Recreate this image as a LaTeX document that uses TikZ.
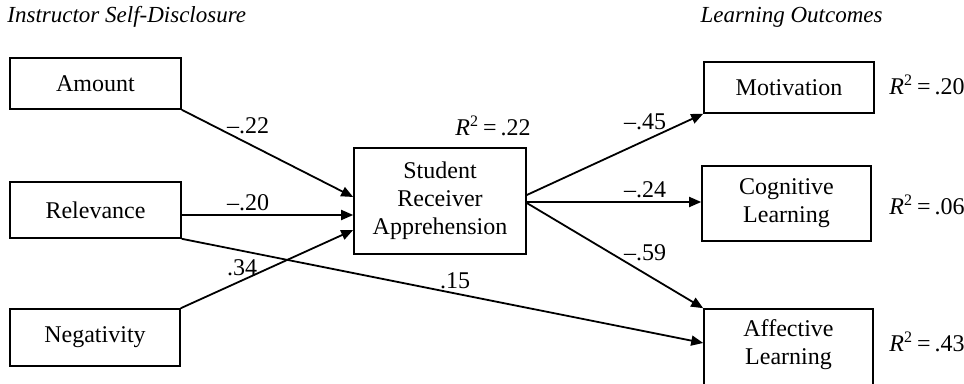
\documentclass[tikz,border=0pt]{standalone}
\usepackage{fontspec}
\setmainfont{Liberation Serif}
\usetikzlibrary{arrows.meta,calc}
\tikzset{
  box/.style={draw, line width=0.8pt, align=center, inner sep=0pt, font=\fontsize{12}{14}\selectfont},
  conn/.style={line width=0.9pt, -{Triangle[length=6pt,width=5pt]}},
  lab/.style={inner sep=0pt, font=\fontsize{12}{14}\selectfont},
  head/.style={inner sep=0pt, font=\fontsize{11.5}{14}\selectfont\itshape}
}
\newcommand{\rsq}[1]{{\itshape R}\textsuperscript{2}\,=\,#1}
\begin{document}
\begin{tikzpicture}[x=0.5pt,y=-0.5pt]
\useasboundingbox (0,0) rectangle (964,384);
% headings
\node[head, anchor=west] (h1) at (7,17) {Instructor Self-Disclosure};
\node[head, anchor=east] (h2) at (883,17) {Learning Outcomes};
% left boxes
\node[box, minimum width=85.5pt, minimum height=25.5pt] (amount) at (95.5,83.5) {Amount};
\node[box, minimum width=85.5pt, minimum height=28pt] (rel) at (95.5,210) {Relevance};
\node[box, minimum width=85pt, minimum height=28.5pt] (neg) at (95,337.5) {Negativity};
% middle
\node[box, minimum width=86pt, minimum height=53pt] (stu) at (440,201) {Student\\Receiver\\Apprehension};
% right boxes
\node[box, minimum width=85pt, minimum height=25.5pt] (mot) at (789,87.5) {Motivation};
\node[box, minimum width=84.5pt, minimum height=37.5pt] (cog) at (786.5,203.5) {Cognitive\\Learning};
\node[box, minimum width=84.5pt, minimum height=40pt,
      label={[lab, align=center, yshift=2pt]center:Affective\\Learning}] (aff) at (788.5,349) {};
% connectors
\draw[conn] (amount.south east) -- ($(stu.west)+(0,-4)$);
\coordinate (r1) at ($(rel.east)+(0,5)$);
\draw[conn] (r1) -- (stu.west |- r1);
\draw[conn] (neg.north east) -- ($(stu.west)+(0,29)$);
\draw[conn] (rel.south east) -- ($(aff.west)+(0,-6)$);
\draw[conn] ($(stu.east)+(0,-6)$) -- (mot.south west);
\coordinate (s2) at ($(stu.east)+(0,1)$);
\draw[conn] (s2) -- (cog.west |- s2);
\draw[conn] ($(stu.east)+(0,2)$) -- (aff.north west);
% path labels
\node[lab] (l1) at (248,126) {--.22};
\node[lab] (l2) at (248,203) {--.20};
\node[lab] (l3) at (242,268) {.34};
\node[lab] (l4) at (455,281) {.15};
\node[lab] (l5) at (645,122) {--.45};
\node[lab] (l6) at (645,190) {--.24};
\node[lab] (l7) at (645,253) {--.59};
% R squared
\node[lab] (q0) at (493,126) {\rsq{.22}};
\node[lab] (q1) at (927,85) {\rsq{.20}};
\node[lab] (q2) at (927,205) {\rsq{.06}};
\node[lab] (q3) at (927,342) {\rsq{.43}};
\end{tikzpicture}
\end{document}
